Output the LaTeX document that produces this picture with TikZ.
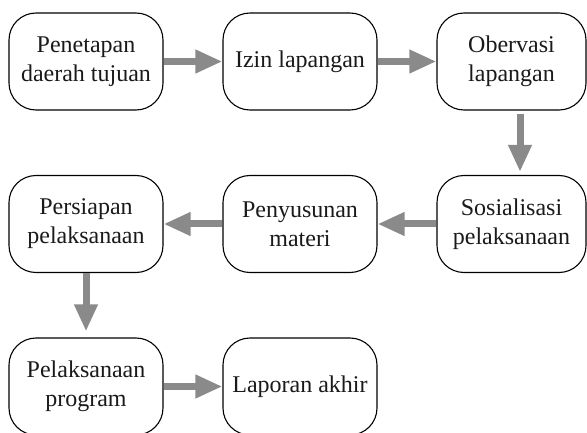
\documentclass[tikz,border=0pt]{standalone}
\usepackage{fontspec}
\setmainfont{Liberation Serif}
\usetikzlibrary{arrows.meta}
\definecolor{arrgray}{HTML}{8A8A8A}
\definecolor{txt}{HTML}{1A1A1A}
\begin{document}
\begin{tikzpicture}[x=1pt,y=1pt,
  box/.style={draw=black, line width=1.1pt, rounded corners=27pt, minimum width=154pt, minimum height=97pt, align=center, inner sep=0pt, text=txt, font=\fontsize{24}{29}\selectfont},
  arr/.style={draw=arrgray, line width=7pt, -{Triangle[length=27pt,width=22pt]}}]
\useasboundingbox (0,0) rectangle (587,-433);
\clip (0,0) rectangle (587,-433);
\node[box] (a) at (86,-61.5) {Penetapan\\daerah tujuan};
\node[box] (b) at (300,-61.5) {Izin lapangan};
\node[box, minimum width=149pt] (c) at (511.5,-61.5) {Obervasi\\lapangan};
\node[box, minimum width=149pt] (f) at (511.5,-224) {Sosialisasi\\pelaksanaan};
\node[box] (e) at (300,-224) {Penyusunan\\materi};
\node[box] (d) at (86,-224) {Persiapan\\pelaksanaan};
\node[box] (g) at (86,-386.5) {Pelaksanaan\\program};
\node[box] (h) at (300,-386.5) {Laporan akhir};
\draw[arr] (a.east) -- (b.west);
\draw[arr] (b.east) -- (c.west);
\draw[arr] ([xshift=8.5pt,yshift=-3pt]c.south) -- ([xshift=8.5pt,yshift=3pt]f.north);
\draw[arr] (f.west) -- (e.east);
\draw[arr] (e.west) -- (d.east);
\draw[arr] (d.south) -- ([yshift=6pt]g.north);
\draw[arr] (g.east) -- (h.west);
\end{tikzpicture}
\end{document}
